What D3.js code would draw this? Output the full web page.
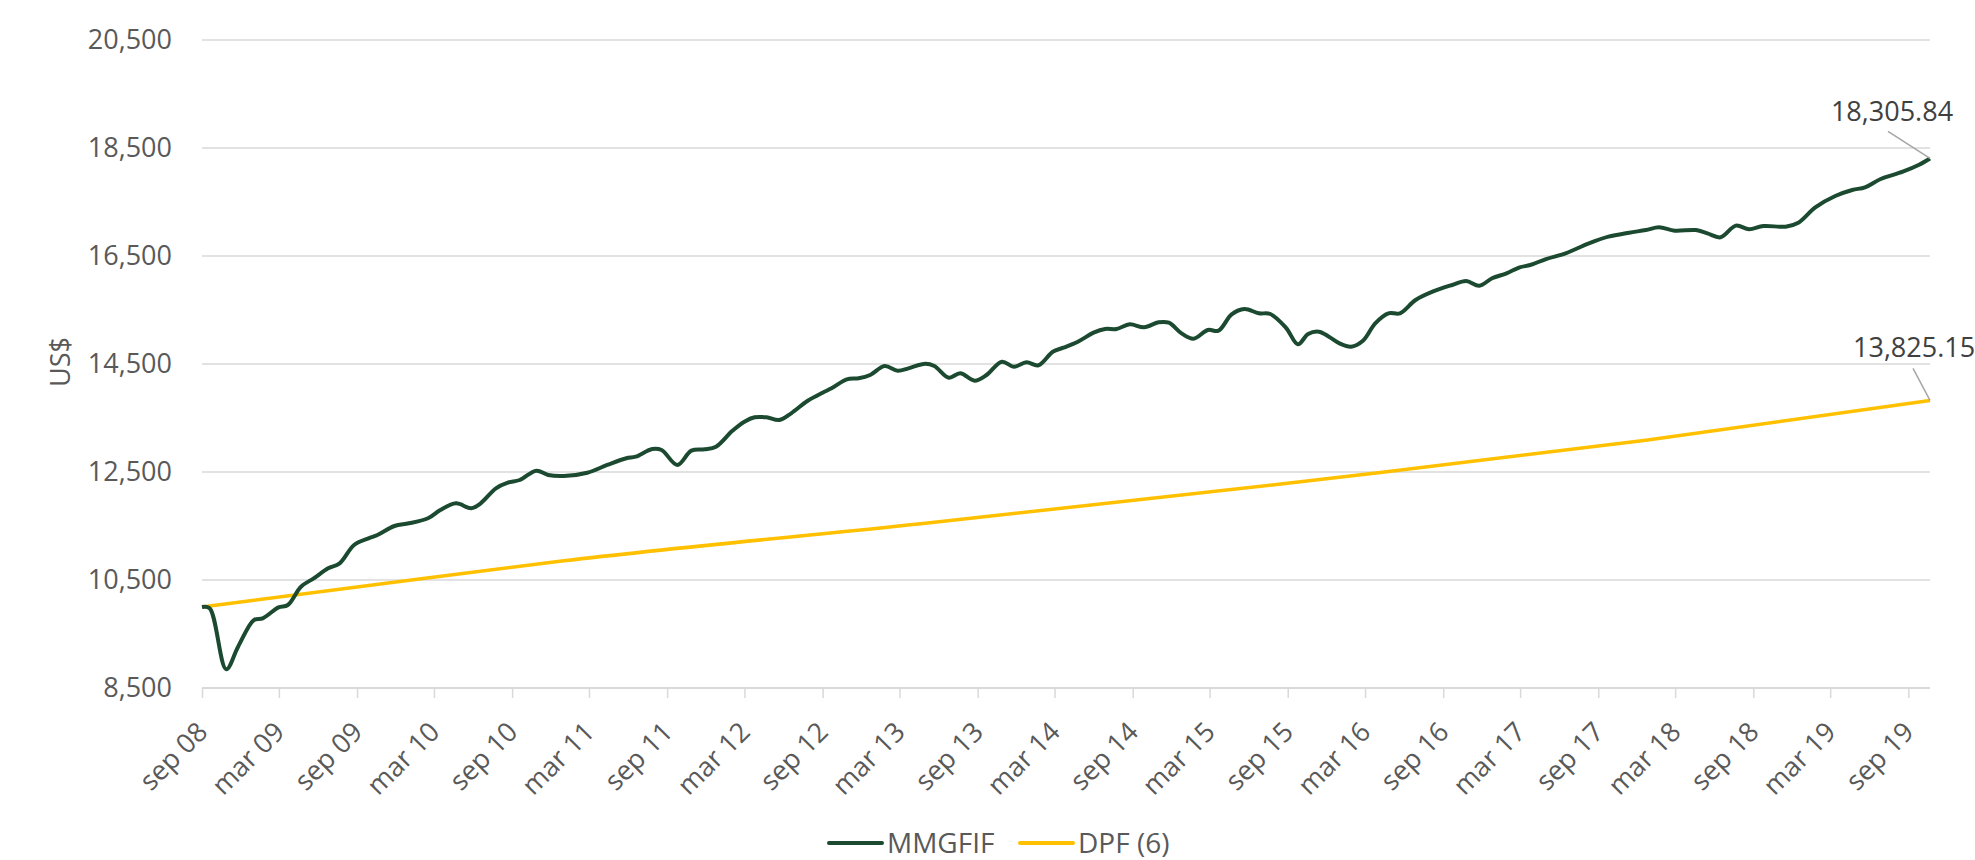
<!DOCTYPE html>
<html>
<head>
<meta charset="utf-8">
<title>MMGFIF vs DPF</title>
<style>
    body { margin: 0; background: #fff; }
    svg { display: block; font-family: "Open Sans", "Noto Sans", sans-serif; }
    .lbl { fill: #595959; font-size: 27px; }
    .val { fill: #404040; font-size: 27px; }
    .leg { fill: #595959; font-size: 28px; }
</style>
</head>
<body>
<svg id="chart" width="1975" height="860"></svg>

<script src="https://d3js.org/d3.v7.min.js"></script>
<script>
    // MMGFIF - values
    const mmgfifDates = [
        '2008-09-01', '2008-09-19', '2008-10-28', '2008-11-25', '2009-01-01', '2009-01-22',
        '2009-02-28', '2009-03-22', '2009-04-22', '2009-05-22', '2009-06-25', '2009-07-22',
        '2009-08-25', '2009-09-28', '2009-10-19', '2009-11-28', '2010-01-01', '2010-02-15',
        '2010-03-16', '2010-04-22', '2010-05-28', '2010-06-19', '2010-07-25', '2010-08-22',
        '2010-09-19', '2010-10-28', '2010-11-25', '2011-01-01', '2011-02-25', '2011-04-13',
        '2011-05-28', '2011-06-19', '2011-07-28', '2011-08-19', '2011-09-25', '2011-10-28',
        '2011-11-28', '2011-12-25', '2012-02-01', '2012-03-01', '2012-03-25', '2012-04-22',
        '2012-05-22', '2012-06-19', '2012-07-28', '2012-09-01', '2012-09-22', '2012-10-28',
        '2012-11-25', '2012-12-22', '2013-01-25', '2013-02-25', '2013-03-22', '2013-05-01',
        '2013-05-22', '2013-06-25', '2013-07-22', '2013-08-25', '2013-09-22', '2013-10-28',
        '2013-11-25', '2013-12-25', '2014-01-22', '2014-02-25', '2014-03-22', '2014-04-25',
        '2014-06-01', '2014-06-28', '2014-07-25', '2014-08-25', '2014-09-28', '2014-11-01',
        '2014-11-25', '2014-12-25', '2015-01-22', '2015-02-25', '2015-03-22', '2015-04-22',
        '2015-05-22', '2015-06-25', '2015-07-22', '2015-08-28', '2015-09-25', '2015-10-19',
        '2015-11-13', '2015-12-07', '2016-01-01', '2016-01-28', '2016-02-25', '2016-03-25',
        '2016-04-25', '2016-05-22', '2016-06-28', '2016-08-07', '2016-09-22', '2016-10-25',
        '2016-11-25', '2016-12-25', '2017-01-28', '2017-02-28', '2017-03-25', '2017-05-01',
        '2017-06-16', '2017-08-10', '2017-09-25', '2017-11-13', '2017-12-22', '2018-01-22',
        '2018-02-28', '2018-04-19', '2018-05-16', '2018-06-16', '2018-07-22', '2018-08-22',
        '2018-09-25', '2018-11-16', '2018-12-16', '2019-01-25', '2019-03-13', '2019-04-22',
        '2019-05-22', '2019-06-28', '2019-08-19', '2019-09-25', '2019-10-22'
    ];
    const mmgfifValues = [
        10000, 9975, 8846, 9265, 9759, 9790,
        9994, 10037, 10376, 10531, 10716, 10809,
        11148, 11272, 11333, 11500, 11550, 11643,
        11796, 11920, 11828, 11920, 12198, 12302,
        12352, 12524, 12444, 12426, 12487, 12630,
        12754, 12784, 12926, 12907, 12630, 12895,
        12920, 12969, 13259, 13432, 13513, 13513,
        13463, 13587, 13820, 13969, 14050, 14217,
        14235, 14297, 14463, 14376, 14420, 14505,
        14463, 14247, 14328, 14191, 14297, 14543,
        14450, 14531, 14476, 14728, 14802, 14913,
        15080, 15148, 15148, 15235, 15180, 15272,
        15265, 15068, 14969, 15130, 15117, 15420,
        15519, 15439, 15426, 15170, 14865, 15056,
        15099, 15006, 14883, 14821, 14932, 15254,
        15439, 15439, 15685, 15839, 15963, 16037,
        15950, 16087, 16179, 16290, 16333, 16444,
        16549, 16735, 16858, 16932, 16981, 17031,
        16969, 16981, 16920, 16846, 17062, 16994,
        17056, 17043, 17117, 17401, 17611, 17722,
        17772, 17926, 18061, 18185, 18305.84
    ];

    // DPF (6)
    const dpfDates = ['2008-09-01', '2010-01-07', '2011-01-01', '2013-05-01', '2015-08-01',
                      '2016-04-16', '2017-12-22', '2019-10-22'];
    const dpfValues = [10000, 10500, 10855, 11550, 12265, 12500, 13090, 13825.15];

    const yTicks = [8500, 10500, 12500, 14500, 16500, 18500, 20500];
    const xTickDates = ['2008-09-01', '2009-03-01', '2009-09-01', '2010-03-01', '2010-09-01',
        '2011-03-01', '2011-09-01', '2012-03-01', '2012-09-01', '2013-03-01', '2013-09-01',
        '2014-03-01', '2014-09-01', '2015-03-01', '2015-09-01', '2016-03-01', '2016-09-01',
        '2017-03-01', '2017-09-01', '2018-03-01', '2018-09-01', '2019-03-01', '2019-09-01'];
    const xTickLabels = ['sep 08', 'mar 09', 'sep 09', 'mar 10', 'sep 10', 'mar 11', 'sep 11',
        'mar 12', 'sep 12', 'mar 13', 'sep 13', 'mar 14', 'sep 14', 'mar 15', 'sep 15',
        'mar 16', 'sep 16', 'mar 17', 'sep 17', 'mar 18', 'sep 18', 'mar 19', 'sep 19'];

    const seriesNames = ['MMGFIF', 'DPF (6)'];
    const seriesColors = ['#1b4a30', '#ffc000'];

    const parse = d3.timeParse('%Y-%m-%d');
    const svg = d3.select('#chart');

    const plotLeft = 202, plotRight = 1930, plotTop = 40, plotBottom = 688;

    const x = d3.scaleTime()
        .domain([parse('2008-09-01'), parse('2019-10-22')])
        .range([plotLeft, plotRight]);
    const y = d3.scaleLinear()
        .domain([8500, 20500])
        .range([plotBottom, plotTop]);

    // gridlines
    svg.append('g')
        .selectAll('line')
        .data(yTicks.slice(1))
        .join('line')
        .attr('x1', plotLeft).attr('x2', plotRight)
        .attr('y1', d => y(d)).attr('y2', d => y(d))
        .attr('stroke', '#d9d9d9')
        .attr('stroke-width', 1.5);

    // y axis labels
    const yAxis = svg.append('g')
        .attr('transform', `translate(${plotLeft},0)`)
        .call(d3.axisLeft(y).tickValues(yTicks).tickSize(0).tickPadding(30).tickFormat(d3.format(',')));
    yAxis.select('.domain').remove();
    yAxis.attr('font-family', null).attr('font-size', null);
    yAxis.selectAll('text').attr('class', 'lbl').attr('fill', null);

    svg.append('text')
        .attr('class', 'lbl')
        .attr('transform', 'translate(70,362) rotate(-90)')
        .attr('text-anchor', 'middle')
        .text('US$');

    // x axis
    const xAxis = svg.append('g')
        .attr('transform', `translate(0,${plotBottom})`)
        .call(d3.axisBottom(x)
            .tickValues(xTickDates.map(parse))
            .tickSize(10)
            .tickSizeOuter(0)
            .tickFormat((d, i) => xTickLabels[i]));
    xAxis.attr('font-family', null).attr('font-size', null);
    xAxis.select('.domain')
        .attr('stroke', '#d9d9d9')
        .attr('stroke-width', 2)
        .attr('d', `M${plotLeft},0H${plotRight}`);
    xAxis.selectAll('.tick line').attr('stroke', '#d9d9d9').attr('stroke-width', 1.5);
    xAxis.selectAll('.tick text')
        .attr('class', 'lbl')
        .attr('fill', null)
        .attr('text-anchor', 'end')
        .attr('x', 0).attr('y', 0)
        .attr('dy', '0.35em')
        .attr('transform', 'translate(0,39) rotate(-45)');

    // lines
    const mmgfif = mmgfifDates.map((d, i) => ({ date: parse(d), value: mmgfifValues[i] }));
    const dpf = dpfDates.map((d, i) => ({ date: parse(d), value: dpfValues[i] }));

    const line = d3.line()
        .x(d => x(d.date))
        .y(d => y(d.value));

    svg.append('path')
        .datum(dpf)
        .attr('fill', 'none')
        .attr('stroke', seriesColors[1])
        .attr('stroke-width', 3.5)
        .attr('d', line.curve(d3.curveMonotoneX));

    svg.append('path')
        .datum(mmgfif)
        .attr('fill', 'none')
        .attr('stroke', seriesColors[0])
        .attr('stroke-width', 4)
        .attr('stroke-linejoin', 'round')
        .attr('d', line.curve(d3.curveCatmullRom.alpha(0.5)));

    // end value labels with leader lines
    const endLabels = [
        { d: mmgfif[mmgfif.length - 1], text: '18,305.84', lx: -42, ly: -27, tx: -38, ty: -37, anchor: 'middle' },
        { d: dpf[dpf.length - 1], text: '13,825.15', lx: -17, ly: -32, tx: -77, ty: -43, anchor: 'start' }
    ];
    endLabels.forEach(l => {
        const px = x(l.d.date), py = y(l.d.value);
        svg.append('line')
            .attr('x1', px).attr('y1', py)
            .attr('x2', px + l.lx).attr('y2', py + l.ly)
            .attr('stroke', '#a6a6a6')
            .attr('stroke-width', 1.5);
        svg.append('text')
            .attr('class', 'val')
            .attr('x', px + l.tx).attr('y', py + l.ty)
            .attr('text-anchor', l.anchor)
            .text(l.text);
    });

    // legend
    const legendX = [829, 1020];
    const legend = svg.append('g');
    seriesNames.forEach((name, i) => {
        legend.append('line')
            .attr('x1', legendX[i]).attr('x2', legendX[i] + 53)
            .attr('y1', 843).attr('y2', 843)
            .attr('stroke', seriesColors[i])
            .attr('stroke-width', 4)
            .attr('stroke-linecap', 'round');
        legend.append('text')
            .attr('class', 'leg')
            .attr('x', legendX[i] + 58)
            .attr('y', 843)
            .attr('dy', '0.35em')
            .text(name);
    });
</script>
</body>
</html>
